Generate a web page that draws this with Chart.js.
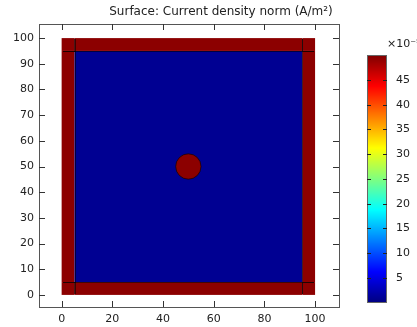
<!DOCTYPE html>
<html>
<head>
<meta charset="utf-8">
<script src="https://cdn.jsdelivr.net/npm/chart.js@4.4.0/dist/chart.umd.min.js"></script>
<style>
    body { margin: 0; background: #fff; }
    #wrap { position: relative; width: 417px; height: 327px; overflow: hidden;
            font-family: "DejaVu Sans", sans-serif; color: #222; }
    #title { position: absolute; top: 4px; left: 221px; transform: translateX(-50%);
             white-space: nowrap; font-size: 12px; }
    #cbUnit { position: absolute; top: 37px; left: 387px; white-space: nowrap; font-size: 11px; }
    canvas { position: absolute; left: 0; top: 0; }
</style>
</head>
<body>
<div id="wrap">
    <canvas id="surfaceChart" width="417" height="327"></canvas>
    <div id="title">Surface: Current density norm (A/m²)</div>
    <div id="cbUnit">×10⁻⁵</div>
</div>
<script>
// 領域ごとの矩形 (x0-x1, y0-y1) と電流密度 (×10^-5 A/m²)
const regionNames = ['interior', 'bottom', 'top', 'left', 'right', 'cornerSW', 'cornerSE', 'cornerNW', 'cornerNE'];
const regionX0 = [5, 5, 5, 0, 95, 0, 95, 0, 95];
const regionX1 = [95, 95, 95, 5, 100, 5, 100, 5, 100];
const regionY0 = [5, 0, 95, 5, 5, 0, 0, 95, 95];
const regionY1 = [95, 5, 100, 95, 95, 5, 5, 100, 100];
const regionValues = [0.9, 49.4, 49.4, 49.4, 49.4, 49.4, 49.4, 49.4, 49.4];

// 中央の円
const circleX = 50;
const circleY = 50;
const circleR = 5;
const circleValue = 49.4;

// 目盛り
const xTicks = [0, 20, 40, 60, 80, 100];
const yTicks = [0, 10, 20, 30, 40, 50, 60, 70, 80, 90, 100];
const colorbarTicks = [5, 10, 15, 20, 25, 30, 35, 40, 45];
const colorbarMin = 0;
const colorbarMax = 50;

// jet カラーマップ
function jet(v) {
    const t = (v - colorbarMin) / (colorbarMax - colorbarMin);
    const c = k => Math.round(255 * Math.min(1, Math.max(0, 1.5 - Math.abs(4 * t - k))));
    return `rgb(${c(3)}, ${c(2)}, ${c(1)})`;
}

const surfacePlugin = {
    id: 'surface',
    beforeDatasetsDraw(chart) {
        const ctx = chart.ctx;
        const x = chart.scales.x;
        const y = chart.scales.y;
        ctx.save();
        regionNames.forEach((name, i) => {
            const px0 = x.getPixelForValue(regionX0[i]);
            const px1 = x.getPixelForValue(regionX1[i]);
            const py0 = y.getPixelForValue(regionY0[i]);
            const py1 = y.getPixelForValue(regionY1[i]);
            ctx.fillStyle = jet(regionValues[i]);
            ctx.fillRect(px0, py1, px1 - px0, py0 - py1);
        });

        // 境界線 (外周は描かない)
        const ox0 = Math.round(x.getPixelForValue(Math.min(...regionX0)));
        const ox1 = Math.round(x.getPixelForValue(Math.max(...regionX1)));
        const oy0 = Math.round(y.getPixelForValue(Math.min(...regionY0)));
        const oy1 = Math.round(y.getPixelForValue(Math.max(...regionY1)));
        ctx.save();
        ctx.beginPath();
        ctx.rect(ox0 + 1, oy1 + 1, ox1 - ox0 - 2, oy0 - oy1 - 2);
        ctx.clip();
        ctx.lineWidth = 1;
        ctx.strokeStyle = 'rgba(0, 0, 0, 0.55)';
        regionNames.forEach((name, i) => {
            if (name === 'interior') return;
            const px0 = x.getPixelForValue(regionX0[i]);
            const px1 = x.getPixelForValue(regionX1[i]);
            const py0 = y.getPixelForValue(regionY0[i]);
            const py1 = y.getPixelForValue(regionY1[i]);
            ctx.strokeRect(Math.round(px0) + 0.5, Math.round(py1) + 0.5,
                Math.round(px1 - px0), Math.round(py0 - py1));
        });
        ctx.restore();

        // 円
        const cx = x.getPixelForValue(circleX);
        const cy = y.getPixelForValue(circleY);
        const r = x.getPixelForValue(circleX + circleR) - cx;
        ctx.beginPath();
        ctx.arc(cx, cy, r, 0, Math.PI * 2);
        ctx.fillStyle = jet(circleValue);
        ctx.fill();
        ctx.lineWidth = 1;
        ctx.strokeStyle = 'rgba(0, 0, 0, 0.6)';
        ctx.stroke();
        ctx.restore();
    },
    afterDraw(chart) {
        const ctx = chart.ctx;
        const area = chart.chartArea;
        const x = chart.scales.x;
        const y = chart.scales.y;
        const cb = chart.scales.cb;
        ctx.save();

        // 枠
        ctx.strokeStyle = '#555';
        ctx.lineWidth = 1;
        ctx.strokeRect(Math.round(area.left) + 0.5, Math.round(area.top) + 0.5,
            Math.round(area.right - area.left), Math.round(area.bottom - area.top));

        // 内向きの目盛り線
        ctx.strokeStyle = '#333';
        ctx.beginPath();
        xTicks.forEach(v => {
            const px = Math.round(x.getPixelForValue(v)) + 0.5;
            ctx.moveTo(px, area.bottom); ctx.lineTo(px, area.bottom - 6);
            ctx.moveTo(px, area.top); ctx.lineTo(px, area.top + 6);
        });
        yTicks.forEach(v => {
            const py = Math.round(y.getPixelForValue(v)) + 0.5;
            ctx.moveTo(area.left, py); ctx.lineTo(area.left + 6, py);
            ctx.moveTo(area.right, py); ctx.lineTo(area.right - 6, py);
        });
        ctx.stroke();

        // カラーバー
        const barLeft = 367, barRight = 387;
        const top = Math.round(cb.getPixelForValue(colorbarMax));
        const bottom = Math.round(cb.getPixelForValue(colorbarMin));
        for (let py = top; py < bottom; py++) {
            ctx.fillStyle = jet(cb.getValueForPixel(py + 0.5));
            ctx.fillRect(barLeft, py, barRight - barLeft, 1);
        }
        ctx.strokeStyle = '#666';
        ctx.strokeRect(barLeft + 0.5, top + 0.5, barRight - barLeft - 1, bottom - top - 1);
        ctx.strokeStyle = '#222';
        ctx.beginPath();
        colorbarTicks.forEach(v => {
            const py = Math.round(cb.getPixelForValue(v)) + 0.5;
            ctx.moveTo(barLeft, py); ctx.lineTo(barLeft + 4, py);
            ctx.moveTo(barRight, py); ctx.lineTo(barRight - 4, py);
        });
        ctx.stroke();
        ctx.restore();
    }
};

const tickFont = { family: 'DejaVu Sans', size: 11 };

new Chart(document.getElementById('surfaceChart'), {
    type: 'scatter',
    data: { datasets: [{ data: [], pointRadius: 0 }] },
    options: {
        responsive: false,
        animation: false,
        devicePixelRatio: 1,
        layout: { padding: { top: 24, left: 0, right: 0, bottom: 0 } },
        plugins: { legend: { display: false }, tooltip: { enabled: false } },
        scales: {
            x: {
                type: 'linear', position: 'bottom', min: -8.93, max: 109.44,
                grid: { display: false, drawTicks: false }, border: { display: false },
                ticks: { font: tickFont, color: '#222', padding: 6, maxRotation: 0, autoSkip: false },
                afterBuildTicks: s => { s.ticks = xTicks.map(v => ({ value: v })); },
                afterFit: s => { s.height = 20; s.paddingLeft = 0; s.paddingRight = 0; }
            },
            y: {
                type: 'linear', position: 'left', min: -4.71, max: 105.49,
                grid: { display: false, drawTicks: false }, border: { display: false },
                ticks: { font: tickFont, color: '#222', padding: 5, autoSkip: false },
                afterBuildTicks: s => { s.ticks = yTicks.map(v => ({ value: v })); },
                afterFit: s => { s.width = 39; s.paddingTop = 0; s.paddingBottom = 0; }
            },
            cb: {
                type: 'linear', position: 'right', min: -0.87, max: 56.31,
                grid: { display: false, drawTicks: false }, border: { display: false },
                ticks: { font: tickFont, color: '#222', padding: 57, autoSkip: false },
                afterBuildTicks: s => { s.ticks = colorbarTicks.map(v => ({ value: v })); },
                afterFit: s => { s.width = 78; s.paddingTop = 0; s.paddingBottom = 0; }
            }
        }
    },
    plugins: [surfacePlugin]
});
</script>
</body>
</html>
